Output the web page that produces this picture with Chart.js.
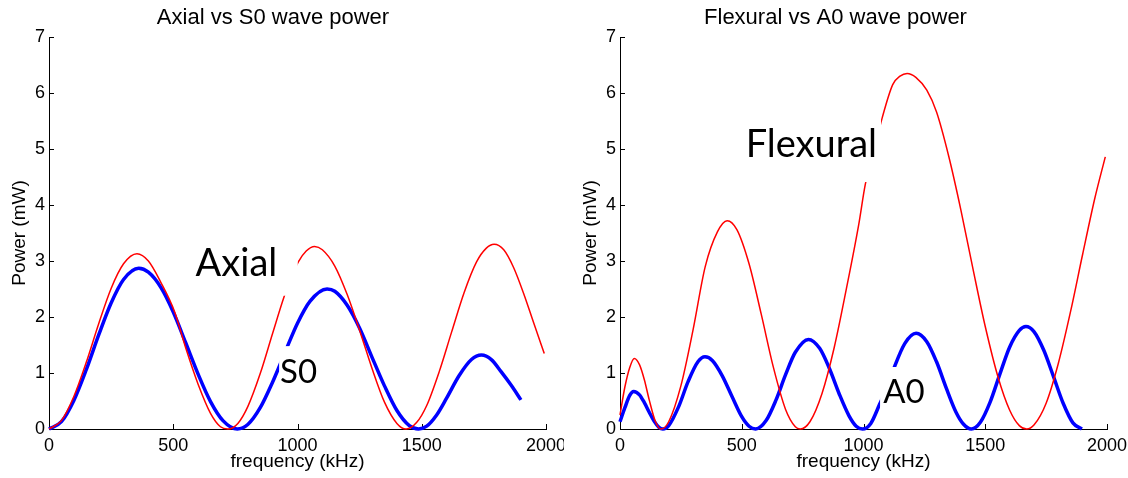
<!DOCTYPE html>
<html>
<head>
<meta charset="utf-8">
<script src="https://cdn.jsdelivr.net/npm/chart.js@4.4.1/dist/chart.umd.min.js"></script>
<style>
  body { margin: 0; background: #fff; }
  #wrap { position: relative; width: 1128px; height: 478px; }
  canvas { position: absolute; top: 0; }
</style>
</head>
<body>
<div id="wrap">
  <canvas id="axialChart" width="564" height="478" style="left:0"></canvas>
  <canvas id="flexChart" width="564" height="478" style="left:564px"></canvas>
</div>
<script>
// axis ticks
const freqTicks = [0, 500, 1000, 1500, 2000];
const powerTicks = [0, 1, 2, 3, 4, 5, 6, 7];

// left panel: Axial (red) and S0 (blue)
const axialFreq = [0, 50, 100, 150, 200, 250, 300, 354, 400, 450, 505, 550, 600, 650, 690, 720, 760, 800, 850, 900,
  946, 975, 1004, 1035, 1069, 1100, 1150, 1200, 1256, 1300, 1350, 1400, 1437, 1480, 1520, 1570, 1620, 1670, 1720, 1760,
  1791, 1830, 1870, 1910, 1950, 1993];
const axialPower = [0, 0.15, 0.58, 1.19, 1.88, 2.51, 2.95, 3.13, 3.00, 2.62, 2.1, 1.45, 0.8, 0.28, 0.04, 0, 0.10, 0.40, 0.99, 1.71,
  2.36, 2.71, 2.99, 3.18, 3.26, 3.20, 2.91, 2.40, 1.68, 1.08, 0.48, 0.1, 0, 0.12, 0.42, 1.02, 1.73, 2.43, 2.98, 3.23,
  3.30, 3.20, 2.88, 2.42, 1.90, 1.35];

const s0Freq = [0, 50, 100, 150, 200, 250, 300, 361, 400, 450, 500, 550, 600, 650, 700, 758,
  800, 850, 900, 924, 960, 1000, 1050, 1119, 1150, 1200, 1250, 1300, 1350, 1400, 1450, 1487,
  1520, 1560, 1600, 1650, 1700, 1740, 1780, 1820, 1860, 1899];
const s0Power = [0, 0.13, 0.51, 1.06, 1.68, 2.25, 2.67, 2.87, 2.80, 2.53, 2.09, 1.54, 0.98, 0.49, 0.15, 0,
  0.08, 0.38, 0.84, 1.09, 1.48, 1.89, 2.28, 2.50, 2.46, 2.21, 1.80, 1.28, 0.77, 0.33, 0.06, 0,
  0.05, 0.25, 0.55, 0.95, 1.24, 1.32, 1.24, 1.02, 0.78, 0.52];

// right panel: Flexural (red) and A0 (blue)
const flexFreq = [0, 20, 40, 59, 80, 100, 120, 145, 168,
  200, 250, 300, 350, 400, 440, 480, 530, 580, 630, 680, 720, 740,
  780, 830, 880, 930, 980, 1008, 1040, 1077, 1120, 1150, 1179, 1215, 1260, 1300, 1350, 1400, 1450, 1500, 1553, 1600, 1640, 1670,
  1700, 1750, 1800, 1850, 1900, 1950, 1993];
const flexPower = [0.25, 0.75, 1.1, 1.26, 1.15, 0.88, 0.52, 0.14, 0,
  0.13, 0.77, 1.77, 2.9, 3.52, 3.72, 3.56, 2.95, 2.05, 1.10, 0.35, 0.04, 0,
  0.13, 0.64, 1.46, 2.51, 3.64, 4.38, 4.91, 5.56, 6.15, 6.30, 6.35, 6.28, 6.05, 5.66, 4.87, 3.91, 2.85, 1.83, 0.92, 0.34, 0.06, 0,
  0.07, 0.46, 1.17, 2.09, 3.12, 4.12, 4.86];

const a0Freq = [0, 20, 40, 56, 80, 100, 120, 140, 160, 176,
  200, 240, 280, 320, 349, 380, 420, 460, 500, 530, 557,
  600, 640, 680, 720, 774, 820, 860, 900, 940, 970, 996,
  1030, 1067, 1100, 1128, 1170, 1216, 1260, 1300, 1340, 1380, 1410, 1443,
  1480, 1520, 1560, 1600, 1640, 1667, 1700, 1740, 1780, 1820, 1860, 1897];
const a0Power = [0.13, 0.38, 0.6, 0.67, 0.61, 0.47, 0.30, 0.14, 0.03, 0,
  0.06, 0.39, 0.85, 1.20, 1.29, 1.22, 0.95, 0.58, 0.22, 0.05, 0,
  0.15, 0.51, 0.97, 1.37, 1.60, 1.44, 1.08, 0.63, 0.24, 0.05, 0,
  0.10, 0.45, 0.78, 1.12, 1.53, 1.71, 1.56, 1.20, 0.73, 0.30, 0.09, 0,
  0.12, 0.48, 0.98, 1.46, 1.76, 1.83, 1.74, 1.41, 0.94, 0.46, 0.11, 0];

// text boxes pasted on top of the plots (white background hides the curve under it)
const axialLabels = [
  { text: 'Axial', x: 590, y: 2.74, size: 38, box: [548, 1001, 2.38, 3.45] },
  { text: 'S0', x: 930, y: 0.82, size: 33, box: [926, 1091, 0.61, 1.48] }
];
const flexLabels = [
  { text: 'Flexural', x: 516, y: 4.85, size: 38, box: [477, 1072, 4.41, 5.73] },
  { text: 'A0', x: 1081, y: 0.464, size: 33, box: [1068, 1257, 0.30, 1.107] }
];

const RED = '#ff0000';
const BLUE = '#0000ff';
const axisFont = 'Liberation Sans';

function toPoints(xs, ys) {
  return xs.map((x, i) => ({ x: x, y: ys[i] }));
}

// matlab style ticks pointing into the plot
const innerTicks = {
  id: 'innerTicks',
  beforeDatasetsDraw(chart) {
    const ctx = chart.ctx;
    const xs = chart.scales.x, ys = chart.scales.y;
    const area = chart.chartArea;
    ctx.save();
    ctx.strokeStyle = '#000';
    ctx.lineWidth = 1;
    ctx.beginPath();
    freqTicks.forEach(v => {
      const px = Math.round(xs.getPixelForValue(v)) + 0.5;
      ctx.moveTo(px, area.bottom);
      ctx.lineTo(px, area.bottom - 5);
    });
    powerTicks.forEach(v => {
      const py = Math.round(ys.getPixelForValue(v)) + 0.5;
      ctx.moveTo(area.left, py);
      ctx.lineTo(area.left + 5, py);
    });
    ctx.stroke();
    ctx.restore();
  }
};

const textBoxes = {
  id: 'textBoxes',
  afterDatasetsDraw(chart, args, opts) {
    const ctx = chart.ctx;
    const xs = chart.scales.x, ys = chart.scales.y;
    ctx.save();
    (opts.items || []).forEach(item => {
      const x0 = xs.getPixelForValue(item.box[0]);
      const x1 = xs.getPixelForValue(item.box[1]);
      const y0 = ys.getPixelForValue(item.box[3]);
      const y1 = ys.getPixelForValue(item.box[2]);
      ctx.fillStyle = '#fff';
      ctx.fillRect(x0, y0, x1 - x0, y1 - y0);
      ctx.fillStyle = '#000';
      ctx.font = item.size + 'px Lato';
      ctx.textAlign = 'left';
      ctx.textBaseline = 'alphabetic';
      ctx.fillText(item.text, xs.getPixelForValue(item.x), ys.getPixelForValue(item.y));
    });
    ctx.restore();
  }
};

function makeChart(id, title, redPts, bluePts, labels, yWidth, yTitlePad, rightPad) {
  return new Chart(document.getElementById(id), {
    type: 'line',
    data: {
      datasets: [{
        data: redPts,
        borderColor: RED,
        borderWidth: 1.5,
        pointRadius: 0,
        cubicInterpolationMode: 'monotone',
        clip: false
      }, {
        data: bluePts,
        borderColor: BLUE,
        borderWidth: 3.5,
        pointRadius: 0,
        cubicInterpolationMode: 'monotone',
        clip: false
      }]
    },
    options: {
      responsive: false,
      animation: false,
      layout: { padding: { left: 0, right: rightPad, top: 0, bottom: 0 } },
      plugins: {
        legend: { display: false },
        tooltip: { enabled: false },
        title: {
          display: true,
          text: title,
          color: '#000',
          font: { family: axisFont, size: 22, weight: 'normal' },
          padding: { top: 5, bottom: 5.6 }
        },
        textBoxes: { items: labels }
      },
      scales: {
        x: {
          type: 'linear',
          min: 0,
          max: 2000,
          afterFit: s => { s.height = 49; s.paddingLeft = 0; s.paddingRight = 0; },
          grid: { display: false, drawTicks: false },
          border: { display: true, color: '#000', width: 1 },
          ticks: {
            stepSize: 500,
            color: '#000',
            padding: 6,
            maxRotation: 0,
            font: { family: axisFont, size: 18 },
            callback: v => String(v)
          },
          title: {
            display: true,
            text: 'frequency (kHz)',
            color: '#000',
            font: { family: axisFont, size: 19 },
            padding: { top: 0, bottom: 4.6 }
          }
        },
        y: {
          min: 0,
          max: 7,
          afterFit: s => { s.width = yWidth; },
          grid: { display: false, drawTicks: false },
          border: { display: true, color: '#000', width: 1 },
          ticks: {
            stepSize: 1,
            color: '#000',
            padding: 4,
            font: { family: axisFont, size: 18 },
            callback: v => String(v)
          },
          title: {
            display: true,
            text: 'Power (mW)',
            color: '#000',
            font: { family: axisFont, size: 19 },
            padding: { top: yTitlePad, bottom: 0 }
          }
        }
      }
    },
    plugins: [innerTicks, textBoxes]
  });
}

makeChart('axialChart', 'Axial vs S0 wave power',
  toPoints(axialFreq, axialPower), toPoints(s0Freq, s0Power), axialLabels, 49, 8.6, 18);
makeChart('flexChart', 'Flexural vs A0 wave power',
  toPoints(flexFreq, flexPower), toPoints(a0Freq, a0Power), flexLabels, 56, 15.6, 21);
</script>
</body>
</html>
